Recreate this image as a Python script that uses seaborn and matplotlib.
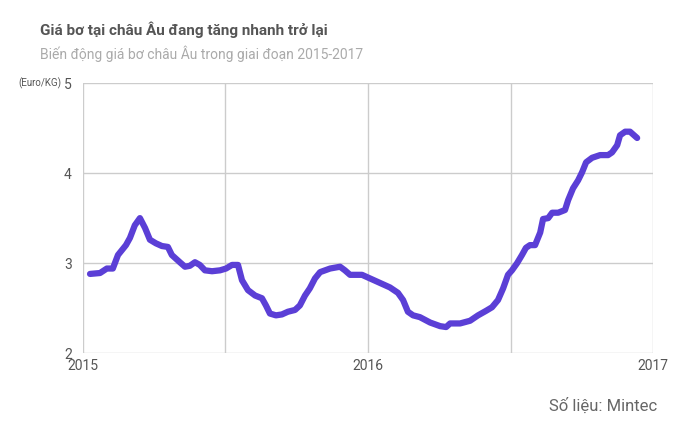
import numpy as np
import pandas as pd
import seaborn as sns
import matplotlib.pyplot as plt

# decimal years and butter price (Euro/KG)
years = [0.025, 0.06, 0.084, 0.105, 0.123, 0.151, 0.165, 0.182, 0.2, 0.218, 0.235, 0.256,
         0.277, 0.298, 0.312, 0.34, 0.358, 0.375, 0.393, 0.41, 0.428, 0.453, 0.481, 0.502,
         0.523, 0.544, 0.558, 0.579, 0.604, 0.628, 0.642, 0.656, 0.677, 0.698, 0.719, 0.744,
         0.761, 0.779, 0.796, 0.814, 0.832, 0.867, 0.902, 0.919, 0.937, 0.979, 1.007, 1.042,
         1.077, 1.105, 1.123, 1.14, 1.158, 1.182, 1.218, 1.253, 1.274, 1.288, 1.323, 1.358,
         1.386, 1.414, 1.435, 1.456, 1.474, 1.491, 1.505, 1.523, 1.54, 1.554, 1.568, 1.586,
         1.604, 1.614, 1.632, 1.646, 1.667, 1.691, 1.702, 1.719, 1.737, 1.751, 1.765, 1.786,
         1.814, 1.842, 1.856, 1.874, 1.884, 1.902, 1.919, 1.944]
prices = [2.88, 2.89, 2.94, 2.94, 3.09, 3.2, 3.28, 3.42, 3.5, 3.39, 3.26, 3.22,
          3.19, 3.18, 3.09, 3.01, 2.96, 2.97, 3.01, 2.98, 2.92, 2.91, 2.92, 2.94,
          2.98, 2.98, 2.81, 2.7, 2.64, 2.61, 2.53, 2.44, 2.42, 2.43, 2.46, 2.48,
          2.53, 2.64, 2.72, 2.83, 2.9, 2.94, 2.96, 2.92, 2.87, 2.87, 2.83, 2.78,
          2.73, 2.67, 2.59, 2.46, 2.42, 2.4, 2.34, 2.3, 2.29, 2.33, 2.33, 2.36,
          2.42, 2.47, 2.51, 2.59, 2.72, 2.87, 2.92, 3.0, 3.09, 3.17, 3.2, 3.2,
          3.34, 3.49, 3.5, 3.56, 3.56, 3.59, 3.7, 3.83, 3.92, 4.01, 4.12, 4.17,
          4.2, 4.2, 4.23, 4.31, 4.42, 4.46, 4.46, 4.39]

df = pd.DataFrame({"year": 2015 + np.array(years), "price": prices})

sns.set_style("white")
plt.rcParams['font.family'] = ['Roboto', 'DejaVu Sans']

fig = plt.figure(figsize=(6.74, 4.26), dpi=100)
ax = fig.add_axes([0.123, 0.171, 0.846, 0.634])
sns.lineplot(data=df, x="year", y="price", color="#5b3fd6", linewidth=4.5, ax=ax,
             solid_capstyle="round")

ax.set_xlim(2015, 2017)
ax.set_ylim(2, 5)
ax.set_xticks([2015, 2015.5, 2016, 2016.5, 2017])
ax.set_xticklabels(["2015", "", "2016", "", "2017"])
ax.set_yticks([2, 3, 4, 5])
ax.grid(True, color="#cccccc", linewidth=1)
for s in ax.spines.values():
    s.set_visible(False)
ax.tick_params(axis="y", length=0, colors="#555555", labelsize=10, pad=8)
ax.tick_params(axis="x", length=0, colors="#555555", labelsize=10, pad=4)
ax.set_xlabel("")
ax.set_ylabel("")

fig.text(0.059, 0.918, "Giá bơ tại châu Âu đang tăng nhanh trở lại", fontsize=11,
         fontweight="bold", color="#555555")
fig.text(0.059, 0.862, "Biến động giá bơ châu Âu trong giai đoạn 2015-2017", fontsize=10,
         color="#aaaaaa")
fig.text(0.027, 0.797, "(Euro/KG)", fontsize=7, color="#555555")
fig.text(0.975, 0.035, "Số liệu: Mintec", fontsize=12, color="#666666", ha="right")

fig.savefig("out.png", dpi=100)
